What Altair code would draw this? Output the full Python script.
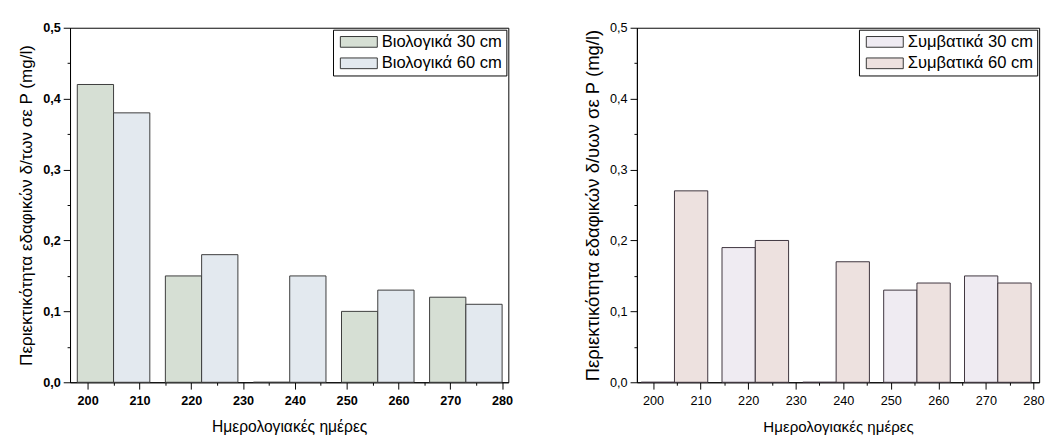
import altair as alt
import pandas as pd

# ---- data ----
bio_days = [205, 222, 239, 256, 273]
conv_days = [204.5, 221.5, 238.5, 255.5, 272.5]
bio_30 = [0.42, 0.15, 0.0, 0.10, 0.12]
bio_60 = [0.38, 0.18, 0.15, 0.13, 0.11]
conv_30 = [0.0, 0.19, 0.0, 0.13, 0.15]
conv_60 = [0.27, 0.20, 0.17, 0.14, 0.14]
bio_labels = ["Βιολογικά 30 cm", "Βιολογικά 60 cm"]
conv_labels = ["Συμβατικά 30 cm", "Συμβατικά 60 cm"]
x_ticks = [200, 205, 210, 215, 220, 225, 230, 235, 240, 245, 250, 255, 260, 265, 270, 275, 280]
y_ticks = [0.0, 0.05, 0.1, 0.15, 0.2, 0.25, 0.3, 0.35, 0.4, 0.45, 0.5]
x_title = "Ημερολογιακές ημέρες"
y_title_bio = "Περιεκτικότητα εδαφικών δ/των σε P (mg/l)"
y_title_conv = "Περιεκτικότητα εδαφικών δ/υων σε P (mg/l)"

BAR_W = 7
FONT = "Liberation Sans"
X_DOMAIN = [196.6, 281.2]


def make_df(days, s30, s60, labels):
    rows = []
    for d, v in zip(days, s30):
        rows.append({"day": d, "series": labels[0], "value": v, "x0": d - BAR_W, "x1": d})
    for d, v in zip(days, s60):
        rows.append({"day": d, "series": labels[1], "value": v, "x0": d, "x1": d + BAR_W})
    return pd.DataFrame(rows)


def panel(df, labels, colors, stroke, width, height, ytitle, weight,
          xt_size, xtp, yt_size, ytp, leg_off):
    major_x = "datum.value % 10 == 0"
    major_y = "abs(datum.value * 10 - round(datum.value * 10)) < 0.000001"
    return alt.Chart(df).mark_bar(stroke=stroke, strokeWidth=1).encode(
        x=alt.X("x0:Q",
                scale=alt.Scale(domain=X_DOMAIN, nice=False, zero=False),
                axis=alt.Axis(values=x_ticks, title=x_title, grid=False,
                              labelExpr=f"{major_x} ? format(datum.value, 'd') : ''",
                              tickSize={"condition": {"test": major_x, "value": 7}, "value": 3},
                              labelFontSize=13, labelFontWeight=weight, labelPadding=6,
                              titleFontSize=xt_size, titleFontWeight="normal", titlePadding=xtp,
                              labelOverlap=False)),
        x2="x1:Q",
        y=alt.Y("value:Q",
                scale=alt.Scale(domain=[0, 0.5], nice=False),
                axis=alt.Axis(values=y_ticks, title=ytitle, grid=False,
                              labelExpr=f"{major_y} ? replace(format(datum.value, '.1f'), '.', ',') : ''",
                              tickSize={"condition": {"test": major_y, "value": 7}, "value": 3},
                              labelFontSize=13, labelFontWeight=weight, labelPadding=3,
                              titleFontSize=yt_size, titleFontWeight="normal", titlePadding=ytp,
                              labelOverlap=False)),
        y2=alt.datum(0),
        color=alt.Color("series:N",
                        scale=alt.Scale(domain=labels, range=colors),
                        legend=alt.Legend(title=None, orient="top-right", offset=leg_off)),
    ).properties(width=width, height=height)


left = panel(make_df(bio_days, bio_30, bio_60, bio_labels), bio_labels,
             ["#d6dfd4", "#e3e9ef"], "#3a3a3a", 450, 364, y_title_bio, "bold",
             16, 12, 17.5, 7, 2)
right = panel(make_df(conv_days, conv_30, conv_60, conv_labels), conv_labels,
              ["#efebf2", "#ede1df"], "#3c323c", 413, 364, y_title_conv, "normal",
              15.5, 12.5, 19, 7.7, 2)

chart = alt.hconcat(left, right, spacing=71).resolve_scale(color="independent").resolve_legend(
    color="independent"
).properties(
    padding={"left": 9.7, "top": 7.5, "right": 0, "bottom": 0}
).configure(font=FONT).configure_view(
    stroke="black", strokeWidth=1
).configure_axis(
    domainColor="black", tickColor="black", labelColor="black", titleColor="black",
    labelFont=FONT, titleFont=FONT, domainWidth=1, tickWidth=1
).configure_legend(
    fillColor="white", strokeColor="black", padding=4, cornerRadius=0,
    symbolType="M-3.45,-1L3.45,-1L3.45,1L-3.45,1Z", symbolSize=121,
    symbolStrokeColor="#333333", symbolStrokeWidth=1, symbolOpacity=1,
    symbolOffset=14, labelOffset=15, labelFontSize=17, labelFont=FONT,
    labelColor="black", rowPadding=4
)

chart.save("out.html", embed_options={"renderer": "svg", "actions": False})
